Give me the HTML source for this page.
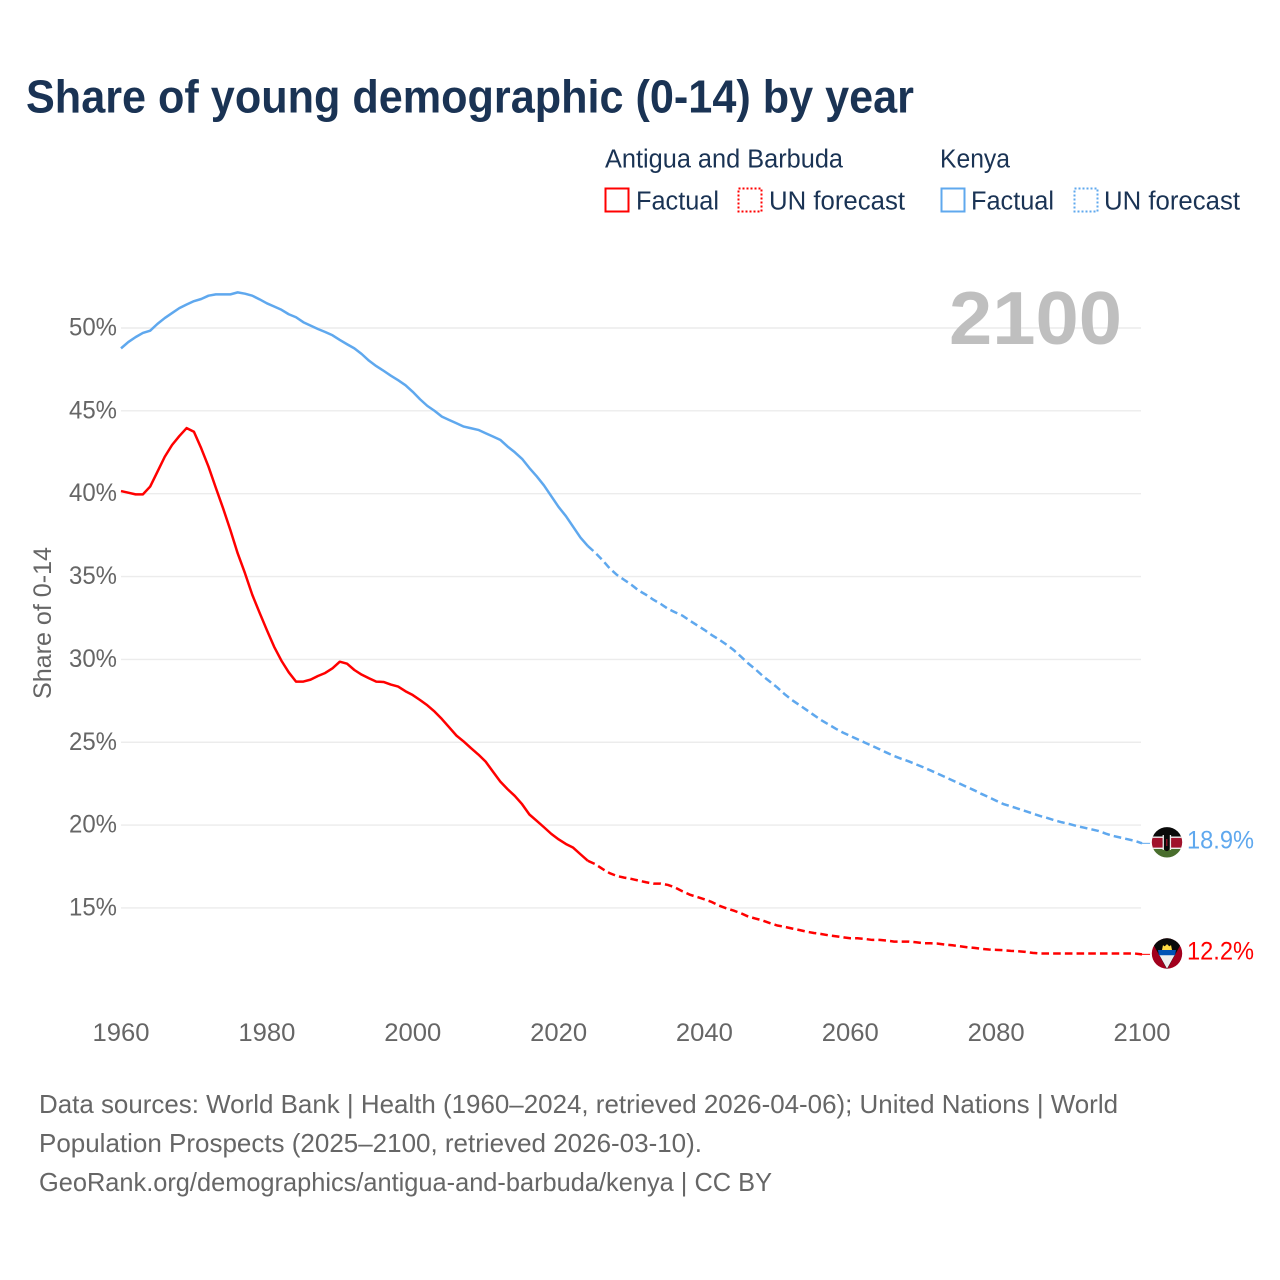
<!DOCTYPE html>
<html lang="en">
<head>
<meta charset="utf-8">
<title>Share of young demographic (0-14) by year</title>
<style>
html,body{margin:0;padding:0;background:#fff;}
svg{display:block;font-family:"Liberation Sans",sans-serif;}
</style>
</head>
<body>
<svg id="chart" xmlns="http://www.w3.org/2000/svg" width="1280" height="1280" viewBox="0 0 1280 1280">
  <text x="26" y="112.5" font-size="46" font-weight="700" fill="#1a3354" textLength="888" lengthAdjust="spacingAndGlyphs">Share of young demographic (0-14) by year</text>

  <g font-size="25.5" fill="#1a3354">
    <text x="605" y="167.5" textLength="238" lengthAdjust="spacingAndGlyphs">Antigua and Barbuda</text>
    <text x="940" y="167.5" textLength="70" lengthAdjust="spacingAndGlyphs">Kenya</text>
    <rect x="605.5" y="188.5" width="23" height="23" fill="none" stroke="#ff0000" stroke-width="2"/>
    <text x="636" y="209.5" textLength="83" lengthAdjust="spacingAndGlyphs">Factual</text>
    <rect x="738.5" y="188.5" width="23" height="23" fill="none" stroke="#ff0000" stroke-width="2" stroke-dasharray="2 2"/>
    <text x="769" y="209.5" textLength="136" lengthAdjust="spacingAndGlyphs">UN forecast</text>
    <rect x="941.5" y="188.5" width="23" height="23" fill="none" stroke="#5fa8ee" stroke-width="2"/>
    <text x="971" y="209.5" textLength="83" lengthAdjust="spacingAndGlyphs">Factual</text>
    <rect x="1074.5" y="188.5" width="23" height="23" fill="none" stroke="#5fa8ee" stroke-width="2" stroke-dasharray="2 2"/>
    <text x="1104" y="209.5" textLength="136" lengthAdjust="spacingAndGlyphs">UN forecast</text>
  </g>

  <g id="grid"></g>
  <g id="yAxis"></g>
  <g id="xAxis"></g>

  <text transform="translate(51,623) rotate(-90)" text-anchor="middle" font-size="25" fill="#666666" textLength="152" lengthAdjust="spacingAndGlyphs">Share of 0-14</text>

  <text x="949" y="344" font-size="75" font-weight="700" fill="#bfbfbf" textLength="173" lengthAdjust="spacingAndGlyphs">2100</text>

  <g id="series"></g>

  <g>
    <defs>
      <clipPath id="kenyaClip"><circle cx="1167" cy="842.3" r="15.2"/></clipPath>
      <clipPath id="antiguaClip"><circle cx="1167" cy="953.5" r="15.2"/></clipPath>
    </defs>
    <g clip-path="url(#kenyaClip)">
      <rect x="1150" y="826" width="34" height="11" fill="#0a0a0a"/>
      <rect x="1150" y="837" width="34" height="11" fill="#a0122c"/>
      <rect x="1150" y="848" width="34" height="11" fill="#496e2d"/>
      <rect x="1150" y="836.5" width="34" height="1.4" fill="#eeeeee"/>
      <rect x="1150" y="847.6" width="34" height="1.4" fill="#eeeeee"/>
      <ellipse cx="1166.8" cy="842.5" rx="4.4" ry="8.6" fill="#0a0a0a"/>
      <rect x="1162.6" y="835" width="1.3" height="15" fill="#eeeeee"/>
      <rect x="1169.8" y="835" width="1.3" height="15" fill="#eeeeee"/>
      <rect x="1166.2" y="839" width="1.2" height="7" fill="#a0122c"/>
    </g>
  </g>
  <g>
    <g clip-path="url(#antiguaClip)">
      <rect x="1150" y="937" width="34" height="33" fill="#a2001d"/>
      <polygon points="1152,937 1182,937 1182,942 1167,969.5 1152,942" fill="#0a0a0a"/>
      <circle cx="1167" cy="949" r="3.8" fill="#ffda44"/>
      <polygon points="1162,950 1163,945 1164.8,946.8 1167,944 1169.2,946.8 1171,945 1172,950" fill="#ffda44"/>
      <polygon points="1158,950 1176,950 1175,955.5 1159,955.5" fill="#0052b4"/>
      <polygon points="1159.5,955.3 1174.5,955.3 1167,968.8" fill="#eeeeee"/>
    </g>
  </g>
  <g id="endLabels"></g>

  <g font-size="26" fill="#666666">
    <text x="39" y="1113" textLength="1079" lengthAdjust="spacingAndGlyphs">Data sources: World Bank | Health (1960–2024, retrieved 2026-04-06); United Nations | World</text>
    <text x="39" y="1152" textLength="663" lengthAdjust="spacingAndGlyphs">Population Prospects (2025–2100, retrieved 2026-03-10).</text>
    <text x="39" y="1191" textLength="733" lengthAdjust="spacingAndGlyphs">GeoRank.org/demographics/antigua-and-barbuda/kenya | CC BY</text>
  </g>
</svg>
<script>
const firstYear = 1960;
const lastFactualYear = 2024;
const xTickYears = [1960, 1980, 2000, 2020, 2040, 2060, 2080, 2100];
const yTickValues = [15, 20, 25, 30, 35, 40, 45, 50];
const kenyaShare = [
  48.77,49.15,49.45,49.7,49.84,50.25,50.6,50.9,51.2,51.42,
  51.62,51.75,51.95,52.03,52.03,52.03,52.15,52.07,51.95,51.73,
  51.49,51.3,51.1,50.83,50.65,50.35,50.14,49.94,49.76,49.56,
  49.28,49.02,48.77,48.43,48.03,47.7,47.42,47.12,46.85,46.55,
  46.15,45.7,45.3,45.0,44.65,44.45,44.25,44.05,43.95,43.85,
  43.65,43.45,43.25,42.85,42.5,42.1,41.55,41.05,40.5,39.85,
  39.2,38.65,38.0,37.35,36.85,36.45,36.0,35.5,35.1,34.8,
  34.5,34.15,33.9,33.6,33.35,33.05,32.84,32.64,32.34,32.06,
  31.78,31.47,31.2,30.9,30.57,30.17,29.76,29.4,29.0,28.65,
  28.3,27.9,27.55,27.25,26.95,26.64,26.34,26.08,25.82,25.58,
  25.38,25.18,24.98,24.78,24.58,24.37,24.17,24.0,23.85,23.67,
  23.49,23.3,23.1,22.9,22.7,22.5,22.3,22.1,21.88,21.68,
  21.47,21.27,21.13,20.99,20.85,20.7,20.55,20.43,20.29,20.17,
  20.07,19.95,19.85,19.75,19.65,19.49,19.35,19.25,19.15,19.05,
  18.9
];
const antiguaShare = [
  40.16,40.06,39.96,39.96,40.43,41.33,42.23,42.94,43.48,43.96,
  43.74,42.74,41.63,40.36,39.12,37.8,36.4,35.2,33.9,32.82,
  31.77,30.76,29.92,29.22,28.66,28.66,28.78,29.0,29.18,29.46,
  29.86,29.74,29.36,29.08,28.86,28.66,28.64,28.48,28.36,28.08,
  27.85,27.55,27.23,26.85,26.4,25.9,25.4,25.04,24.64,24.26,
  23.83,23.23,22.63,22.17,21.76,21.26,20.64,20.26,19.87,19.47,
  19.14,18.86,18.64,18.24,17.85,17.65,17.36,17.1,16.93,16.83,
  16.75,16.65,16.55,16.47,16.47,16.39,16.23,16.0,15.8,15.66,
  15.52,15.36,15.14,14.98,14.84,14.68,14.48,14.36,14.24,14.08,
  13.94,13.86,13.76,13.67,13.57,13.49,13.43,13.35,13.29,13.23,
  13.17,13.17,13.13,13.07,13.07,13.03,12.97,12.97,12.97,12.93,
  12.87,12.87,12.85,12.79,12.75,12.69,12.63,12.59,12.53,12.49,
  12.47,12.45,12.41,12.39,12.35,12.29,12.25,12.25,12.25,12.25,
  12.25,12.25,12.25,12.25,12.25,12.25,12.25,12.25,12.25,12.25,
  12.2
];

const SVG_NS = 'http://www.w3.org/2000/svg';
function xScale(year) { return 121 + (year - 1960) * 7.293; }
function yScale(v) { return 328 + (50 - v) * 16.57; }
function pointsFor(values, fromYear, toYear) {
  const out = [];
  for (let yr = fromYear; yr <= toYear; yr++) {
    out.push(xScale(yr).toFixed(2) + ',' + yScale(values[yr - firstYear]).toFixed(2));
  }
  return out.join(' ');
}

const gridGroup = document.getElementById('grid');
const yAxisGroup = document.getElementById('yAxis');
const xAxisGroup = document.getElementById('xAxis');
const seriesGroup = document.getElementById('series');
const labelGroup = document.getElementById('endLabels');

yTickValues.forEach(function (v) {
  const line = document.createElementNS(SVG_NS, 'line');
  
  
  line.setAttribute('x1', xScale(1960));
  line.setAttribute('x2', xScale(2100) - 1);
  line.setAttribute('y1', yScale(v));
  line.setAttribute('y2', yScale(v));
  line.setAttribute('stroke', '#ececec');
  line.setAttribute('stroke-width', '1.4');
  gridGroup.appendChild(line);

  const label = document.createElementNS(SVG_NS, 'text');
  
  
  label.setAttribute('x', '117');
  label.setAttribute('y', yScale(v) + 7.5);
  label.setAttribute('text-anchor', 'end');
  label.setAttribute('font-size', '25');
  label.setAttribute('fill', '#666666');
  label.setAttribute('textLength', '48');
  label.setAttribute('lengthAdjust', 'spacingAndGlyphs');
  label.textContent = v + '%';
  yAxisGroup.appendChild(label);
});

xTickYears.forEach(function (year) {
  const label = document.createElementNS(SVG_NS, 'text');
  
  
  label.setAttribute('x', xScale(year));
  label.setAttribute('y', '1041');
  label.setAttribute('text-anchor', 'middle');
  label.setAttribute('font-size', '25');
  label.setAttribute('fill', '#666666');
  label.setAttribute('textLength', '57');
  label.setAttribute('lengthAdjust', 'spacingAndGlyphs');
  label.textContent = String(year);
  xAxisGroup.appendChild(label);
});

function drawSeries(values, color, slug) {
  const lastYear = firstYear + values.length - 1;

  const factual = document.createElementNS(SVG_NS, 'polyline');
  
  
  factual.setAttribute('points', pointsFor(values, firstYear, lastFactualYear));
  factual.setAttribute('fill', 'none');
  factual.setAttribute('stroke', color);
  factual.setAttribute('stroke-width', '2.5');
  factual.setAttribute('stroke-linejoin', 'round');
  seriesGroup.appendChild(factual);

  const forecast = document.createElementNS(SVG_NS, 'polyline');
  
  
  forecast.setAttribute('points', pointsFor(values, lastFactualYear, lastYear));
  forecast.setAttribute('fill', 'none');
  forecast.setAttribute('stroke', color);
  forecast.setAttribute('stroke-width', '2.5');
  forecast.setAttribute('stroke-dasharray', '7.6 4.1');
  seriesGroup.appendChild(forecast);

  const endValue = values[values.length - 1];

  const connector = document.createElementNS(SVG_NS, 'line');
  
  
  connector.setAttribute('x1', xScale(lastYear));
  connector.setAttribute('x2', xScale(lastYear) + 8);
  connector.setAttribute('y1', yScale(endValue));
  connector.setAttribute('y2', yScale(endValue));
  connector.setAttribute('stroke', color);
  connector.setAttribute('stroke-width', '1');
  seriesGroup.appendChild(connector);

  const endLabel = document.createElementNS(SVG_NS, 'text');
  
  
  endLabel.setAttribute('x', '1187');
  endLabel.setAttribute('y', yScale(endValue) + 5);
  endLabel.setAttribute('font-size', '25');
  endLabel.setAttribute('fill', color);
  endLabel.setAttribute('textLength', '67');
  endLabel.setAttribute('lengthAdjust', 'spacingAndGlyphs');
  endLabel.textContent = endValue.toFixed(1) + '%';
  labelGroup.appendChild(endLabel);
}

drawSeries(kenyaShare, '#5fa8ee', 'kenya');
drawSeries(antiguaShare, '#ff0000', 'antigua');
</script>
</body>
</html>
